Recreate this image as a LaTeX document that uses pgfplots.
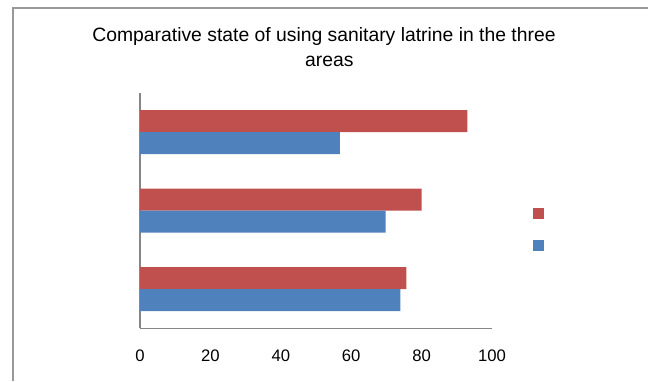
\documentclass[border=0pt]{standalone}
\usepackage{fontspec}
\setmainfont{Liberation Sans}
\usepackage{pgfplots}
\pgfplotsset{compat=1.18}

\definecolor{barred}{HTML}{C0504D}
\definecolor{barblue}{HTML}{4F81BD}
\definecolor{axisgray}{HTML}{868686}
\definecolor{framegray}{HTML}{999999}

\begin{document}
\begin{tikzpicture}
  % page size: 648 x 381 px at 0.75pt per px
  \path[use as bounding box] (0pt,0pt) rectangle (486pt,285.75pt);
  % chart frame (top and left edges)
  \draw[framegray, line width=1.1pt] (9.75pt,0pt) -- (9.75pt,279.9pt) -- (486pt,279.9pt);

  % title
  \node[anchor=base, inner sep=0pt, font=\fontsize{14.5pt}{18pt}\selectfont]
    at (243pt,254.5pt) {Comparative state of using sanitary latrine in the three};
  \node[anchor=base, inner sep=0pt, font=\fontsize{14.5pt}{18pt}\selectfont]
    at (247pt,235.7pt) {areas};

  \begin{axis}[
    at={(105pt,39.5pt)}, anchor=south west,
    scale only axis, width=264pt, height=176.5pt,
    xbar, bar width=16.5pt,
    xmin=0, xmax=100, ymin=0.5, ymax=3.5,
    xtick={0,20,40,60,80,100},
    ytick=\empty,
    axis x line*=bottom, axis y line*=left,
    axis line style={draw=axisgray, line width=0.9pt, -},
    major tick length=0pt,
    /pgf/number format/assume math mode=true,
    xticklabel style={anchor=base, yshift=-25pt,
      font=\fontsize{12.5pt}{14pt}\selectfont},
    legend style={draw=none, fill=none, at={(1.1165,0.422)}, anchor=west,
      inner sep=0pt, row sep=15.75pt, nodes={inner sep=0pt}},
    legend image code/.code={\fill[#1] (0pt,-4.125pt) rectangle (8.25pt,4.125pt);},
  ]
    \addplot[fill=barred, draw=none, bar shift=8.25pt]
      coordinates {(75.7,1) (80.0,2) (93.0,3)};
    \addlegendentry{\mbox{}}
    \addplot[fill=barblue, draw=none, bar shift=-8.25pt]
      coordinates {(74.0,1) (69.8,2) (56.8,3)};
    \addlegendentry{\mbox{}}
  \end{axis}
\end{tikzpicture}
\end{document}
